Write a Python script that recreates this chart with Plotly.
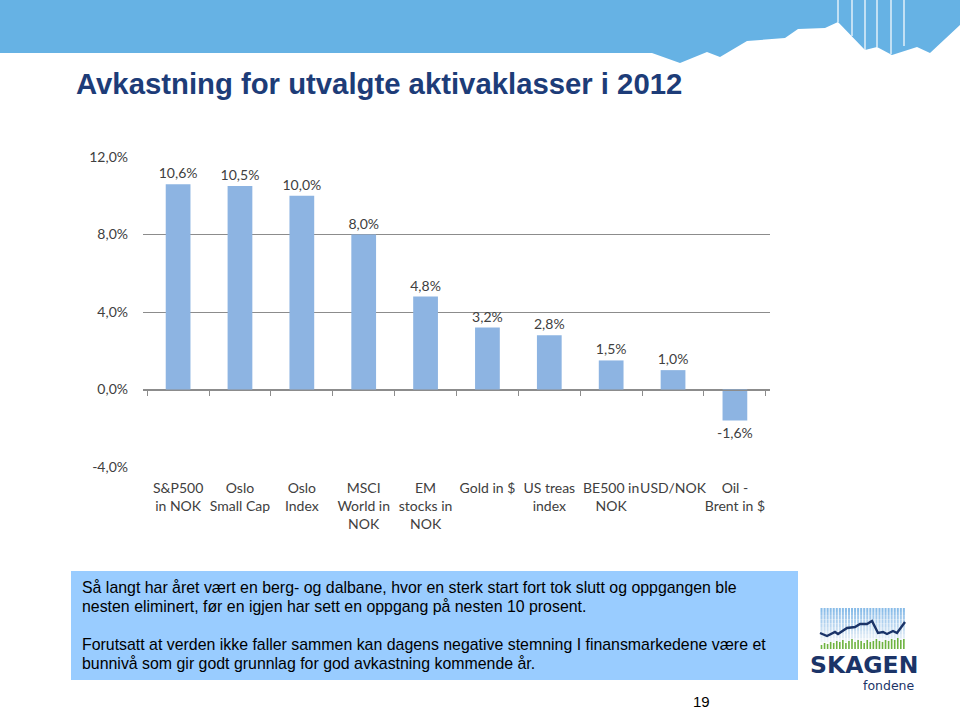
import plotly.graph_objects as go

# ---------------- data ----------------
categories = ["S&P500<br>in NOK", "Oslo<br>Small Cap", "Oslo<br>Index", "MSCI<br>World in<br>NOK",
              "EM<br>stocks in<br>NOK", "Gold in $", "US treas<br>index", "BE500 in<br>NOK",
              "USD/NOK", "Oil -<br>Brent in $"]
returns_pct = [10.6, 10.5, 10.0, 8.0, 4.8, 3.2, 2.8, 1.5, 1.0, -1.6]
y_ticks = [-4, 0, 4, 8, 12]
y_tick_labels = ["-4,0%", "0,0%", "4,0%", "8,0%", "12,0%"]

title_text = "Avkastning for utvalgte aktivaklasser i 2012"
body_lines = [
    "Så langt har året vært en berg- og dalbane, hvor en sterk start fort tok slutt og oppgangen ble",
    "nesten eliminert, før en igjen har sett en oppgang på nesten 10 prosent.",
    "Forutsatt at verden ikke faller sammen kan dagens negative stemning I finansmarkedene være et",
    "bunnivå som gir godt grunnlag for god avkastning kommende år.",
]
page_no = "19"

# logo decoration (pixel outline of the small line chart in the logo)
logo_line = [(820, 633), (827, 636), (835, 632), (838, 634), (847, 628), (855, 627), (860, 624),
             (867, 624), (872, 621), (878, 633), (883, 632), (887, 634), (893, 631), (897, 633), (905, 622)]
logo_green = [4, 6, 5, 7, 6, 8, 7, 9, 6, 8, 10, 7, 9, 8, 6, 9, 7, 8, 10, 8, 7, 9, 8, 10, 9, 11, 9, 10]

# ---------------- geometry helpers ----------------
W, H = 960, 712
PL, PR, PT, PB = 143, 770, 157, 467


def px(x):
    return (x - PL) / (PR - PL)


def py(y):
    return (PB - y) / (PB - PT)


def path(points, close=True):
    s = "M " + " L ".join(f"{px(x):.5f},{py(y):.5f}" for x, y in points)
    return s + (" Z" if close else "")


FONT_CHART = "Lato, Calibri, Carlito, Noto Sans, sans-serif"
FONT_BODY = "Liberation Sans, Arial, sans-serif"

fig = go.Figure()
fig.add_trace(go.Bar(
    x=categories, y=returns_pct,
    marker=dict(color="#8DB4E2", line=dict(width=0)),
    texttemplate="%{y:.1f}%", textposition="outside", constraintext="none",
    textfont=dict(family=FONT_CHART, size=14, color="#404040"),
    cliponaxis=False, showlegend=False, hoverinfo="skip",
))
# invisible helper trace for the category axis drawn through zero
fig.add_trace(go.Scatter(x=categories, y=returns_pct, xaxis="x2", mode="markers",
                         marker=dict(opacity=0), showlegend=False, hoverinfo="skip"))

shapes = []
# top banner
banner = [(0, 0), (960, 0), (960, 25), (930, 53), (917, 47), (892, 55), (877, 47), (865, 50),
          (838, 22), (825, 28), (798, 29), (785, 38), (747, 41), (720, 57), (707, 52),
          (680, 63), (652, 53), (0, 53)]
shapes.append(dict(type="path", xref="paper", yref="paper", path=path(banner),
                   fillcolor="#66B2E4", line=dict(width=0), layer="below"))
# white thin lines in the banner
edge = {838: 22, 852: 36, 865: 50, 877: 47, 891: 54, 904: 46}
for xl, ye in edge.items():
    shapes.append(dict(type="line", xref="paper", yref="paper", x0=px(xl), x1=px(xl),
                       y0=py(0), y1=py(ye), line=dict(color="white", width=1.2), layer="below"))
# text box
shapes.append(dict(type="rect", xref="paper", yref="paper", x0=px(71), x1=px(798),
                   y0=py(571), y1=py(680), fillcolor="#99CCFF", line=dict(width=0), layer="below"))
# logo stripes with fade
top_c = (137, 188, 232)
n = 10
for i in range(n):
    t = i / (n - 1)
    c = tuple(int(top_c[k] + (250 - top_c[k]) * t) for k in range(3))
    y0 = 608 + i * 3.8
    shapes.append(dict(type="rect", xref="paper", yref="paper", x0=px(820), x1=px(905),
                       y0=py(y0), y1=py(y0 + 3.9), fillcolor=f"rgb{c}", line=dict(width=0),
                       layer="below"))
for i in range(29):
    xl = 820 + i * 3.05
    shapes.append(dict(type="line", xref="paper", yref="paper", x0=px(xl), x1=px(xl),
                       y0=py(608), y1=py(647), line=dict(color="white", width=1)))
for i, h in enumerate(logo_green):
    xl = 821.5 + i * 3.05
    shapes.append(dict(type="line", xref="paper", yref="paper", x0=px(xl), x1=px(xl),
                       y0=py(649), y1=py(649 - h), line=dict(color="#6DB33F", width=1.6)))
shapes.append(dict(type="path", xref="paper", yref="paper", path=path(logo_line, close=False),
                   line=dict(color="#1B3468", width=2.4)))

annotations = [
    dict(text=f"<b>{title_text}</b>", x=px(74), y=py(84), xref="paper", yref="paper",
         xanchor="left", yanchor="middle", showarrow=False,
         font=dict(family="Liberation Sans Narrow, Arial Narrow, Liberation Sans, Arial", size=29.3,
                   color="#1D3C78")),
    dict(text=page_no, x=px(701), y=py(712), xref="paper", yref="paper", xanchor="center",
         yanchor="bottom", showarrow=False, font=dict(family=FONT_BODY, size=15, color="#000000")),
    dict(text="<b>SKAGEN</b>", x=px(863.5), y=py(665), xref="paper", yref="paper", xanchor="center",
         yanchor="middle", showarrow=False, height=20, valign="middle",
         font=dict(family="DejaVu Sans, sans-serif", size=23.5, color="#1B3468")),
    dict(text="fondene", x=px(917), y=py(684.5), xref="paper", yref="paper", xanchor="right",
         yanchor="middle", showarrow=False, height=12, valign="middle",
         font=dict(family="DejaVu Sans, sans-serif", size=12.5, color="#1B3468")),
]
for line, yc in zip(body_lines, [587, 606, 644, 663]):
    annotations.append(dict(text=line, x=px(80), y=py(yc), xref="paper", yref="paper",
                            xanchor="left", yanchor="middle", align="left", showarrow=False,
                            font=dict(family=FONT_BODY, size=15.9, color="#000000")))

fig.update_layout(
    width=W, height=H,
    margin=dict(l=PL, r=W - PR, t=PT, b=H - PB, pad=0),
    paper_bgcolor="white", plot_bgcolor="white",
    separators=", ",
    bargap=0.6,
    shapes=shapes, annotations=annotations,
    xaxis=dict(showgrid=False, showline=False, ticks="", zeroline=False, tickangle=0,
               tickfont=dict(family=FONT_CHART, size=14, color="#404040"),
               ticklabelstandoff=11, fixedrange=True),
    xaxis2=dict(overlaying="x", matches="x", anchor="free", position=0.25,
                showline=True, linecolor="#8C8C8C", linewidth=1, ticks="outside", ticklen=5,
                tickcolor="#8C8C8C", tickson="boundaries", showticklabels=False, showgrid=False,
                zeroline=False),
    yaxis=dict(range=[-4, 12], tickvals=y_ticks, ticktext=y_tick_labels,
               showgrid=True, gridcolor="#8C8C8C", gridwidth=1, zeroline=False, showline=False,
               tickfont=dict(family=FONT_CHART, size=14, color="#404040"),
               ticklabelstandoff=14, fixedrange=True),
)

fig.write_html("out.html", config={"displayModeBar": False},
               post_script="document.body.style.margin='0';")
